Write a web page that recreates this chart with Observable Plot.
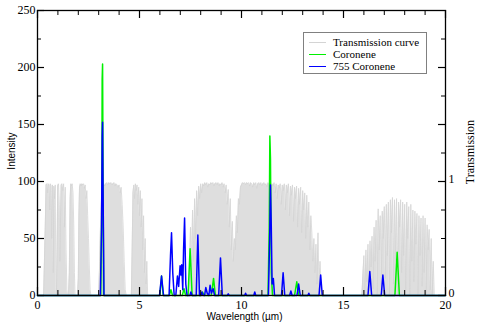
<!DOCTYPE html>
<html><head><meta charset="utf-8">
<script src="https://cdn.jsdelivr.net/npm/d3@7"></script>
<script src="https://cdn.jsdelivr.net/npm/@observablehq/plot@0.6"></script>
<style>
body{margin:0;background:#fff}
#wrap{position:relative;width:480px;height:324px;overflow:hidden}
#legend{position:absolute;left:303px;top:32px;width:124px;height:42px;border:1px solid #808080;background:#fff;box-sizing:border-box;font-family:"Liberation Serif",serif;font-size:11px;color:#000}
#legend .row{position:absolute;left:0;height:12px;line-height:12px;white-space:nowrap}
#legend .sw{position:absolute;left:5px;top:6px;width:17px;height:0}
#legend .lb{position:absolute;left:29px;top:0}
</style></head>
<body><div id="wrap"></div>
<script>
// ---------- data ----------
const seriesNames = ["Transmission curve", "Coronene", "755 Coronene"];
const seriesColors = ["#d4d4d4", "#00f000", "#0000ff"];

// atmospheric transmission (percent; 100 % = transmission 1)
const transWl = [0,0.30,0.38,0.42,0.46,0.50,0.53,0.57,0.60,0.63,0.67,0.70,0.73,0.77,0.80,0.84,0.87,0.90,0.93,0.96,0.99,1.03,1.07,1.10,1.13,1.16,1.20,1.24,1.28,1.32,1.36,1.40,1.44,1.48,1.52,1.56,1.60,1.63,1.67,1.70,1.74,1.78,1.81,1.84,1.90,1.96,2.00,2.03,2.06,2.10,2.14,2.18,2.22,2.26,2.30,2.34,2.38,2.42,2.46,2.50,2.54,2.58,2.62,3.00,3.05,3.10,3.15,3.20,3.25,3.30,3.35,3.40,3.45,3.50,3.55,3.60,3.65,3.70,3.75,3.80,3.85,3.90,3.95,4.00,4.05,4.10,4.15,4.20,4.25,4.30,4.35,4.60,4.64,4.68,4.72,4.76,4.80,4.84,4.88,4.92,4.96,5.00,5.04,5.08,5.12,5.16,5.20,5.24,5.28,5.32,5.36,5.40,7.40,7.45,7.50,7.55,7.60,7.65,7.70,7.75,7.80,7.85,7.90,7.95,8.00,8.05,8.10,8.15,8.20,8.25,8.30,8.35,8.40,8.45,8.50,8.55,8.60,8.65,8.70,8.75,8.80,8.85,8.90,8.95,9.00,9.05,9.10,9.15,9.20,9.25,9.30,9.35,9.40,9.45,9.50,9.55,9.60,9.65,9.70,9.75,9.80,9.85,9.90,9.95,10.00,10.05,10.10,10.15,10.20,10.25,10.30,10.35,10.40,10.45,10.50,10.55,10.60,10.65,10.70,10.75,10.80,10.85,10.90,10.95,11.00,11.05,11.10,11.15,11.20,11.25,11.30,11.35,11.40,11.45,11.50,11.55,11.60,11.65,11.70,11.75,11.80,11.85,11.90,11.95,12.00,12.05,12.10,12.15,12.20,12.25,12.30,12.35,12.40,12.45,12.50,12.55,12.60,12.65,12.70,12.75,12.80,12.85,12.90,12.95,13.00,13.05,13.10,13.15,13.20,13.25,13.30,13.35,13.40,13.45,13.50,13.55,13.60,13.65,13.70,13.75,13.80,13.85,13.90,13.95,14.05,15.90,16.00,16.04,16.10,16.14,16.20,16.25,16.30,16.35,16.40,16.45,16.50,16.55,16.60,16.65,16.70,16.75,16.80,16.85,16.90,16.95,17.00,17.05,17.10,17.15,17.20,17.25,17.30,17.35,17.40,17.45,17.50,17.55,17.60,17.65,17.70,17.75,17.80,17.85,17.90,17.95,18.00,18.05,18.10,18.15,18.20,18.25,18.30,18.35,18.40,18.45,18.50,18.55,18.60,18.65,18.70,18.75,18.80,18.85,18.90,18.95,19.00,19.05,19.10,19.15,19.20,19.25,19.30,19.35,19.40,19.45,20.00];
const transPct = [0,0,60,97,98,90,98,97,75,98,96,50,97,20,96,85,97,10,0,40,96,98,80,30,70,97,98,92,98,60,95,40,5,0,0,20,85,98,96,98,90,60,20,0,0,0,15,70,95,98,96,98,97,98,94,97,85,92,70,50,25,5,0,0,30,70,90,96,98,96,98,99,97,99,98,99,97,98,99,96,98,97,95,97,90,95,80,60,30,5,0,0,40,90,97,85,98,92,97,80,95,70,92,60,85,40,70,20,50,10,30,0,0,20,60,15,75,30,85,50,92,70,96,85,98,90,98,96,99,97,99,95,98,97,99,98,99,96,98,99,97,99,96,98,97,99,95,98,90,97,80,93,60,85,40,65,30,50,40,70,55,85,80,95,97,99,98,99,97,99,98,99,96,99,98,95,99,97,99,94,98,99,97,99,96,98,99,97,98,95,99,97,98,92,98,96,99,90,98,85,97,94,98,80,97,92,98,75,97,90,98,70,96,88,97,65,95,85,96,60,94,80,95,55,92,75,90,50,88,60,82,40,70,55,30,50,20,45,10,55,5,30,10,0,0,0,35,0,40,12,45,0,48,25,52,6,60,30,66,0,76,40,70,8,74,50,78,15,80,35,82,0,84,55,86,10,84,30,85,0,82,60,84,20,82,35,80,5,82,50,78,0,80,30,75,12,74,45,72,0,70,35,68,8,70,20,68,0,62,40,58,5,50,0,30,0,0];

// Coronene spectrum (intensity)
const coroneneWl  = [0,3.10,3.15,3.17,3.19,3.21,3.24,6.00,6.08,6.16,6.46,6.54,6.62,7.10,7.18,7.26,7.38,7.48,7.58,8.00,8.09,8.18,8.52,8.63,8.72,11.30,11.36,11.39,11.42,11.46,11.52,12.60,12.71,12.80,17.52,17.63,17.74,20];
const coroneneInt = [0,0,70,190,203,120,0,0,17,0,0,5,0,0,6,0,0,41,0,0,3,0,0,15,0,0,60,140,120,20,0,0,12,0,0,38,0,0];

// 755 Coronene spectrum (intensity)
const c755Wl  = [0,3.08,3.14,3.17,3.19,3.21,3.26,5.98,6.08,6.18,6.45,6.52,6.57,6.63,6.70,6.78,6.86,6.92,6.99,7.03,7.07,7.12,7.16,7.21,7.27,7.33,7.47,7.52,7.58,7.78,7.86,7.94,8.02,8.06,8.12,8.19,8.25,8.32,8.40,8.46,8.52,8.61,8.68,8.88,8.97,9.06,9.30,9.35,9.40,10.15,10.20,10.25,10.60,10.65,10.70,11.32,11.38,11.42,11.46,11.50,11.56,11.62,11.96,12.04,12.12,12.36,12.42,12.48,12.72,12.80,12.88,13.25,13.30,13.35,13.80,13.88,13.96,16.20,16.29,16.38,16.85,16.93,17.02,20];
const c755Int = [0,0,60,140,152,100,0,0,17,0,0,35,55,20,0,0,17,8,26,18,27,5,40,68,10,0,0,3,0,0,53,0,0,3,0,0,7,2,0,9,2,6,0,0,33,0,0,1.5,0,0,2,0,0,3,0,0,50,97,60,10,15,0,0,20,0,0,4,0,0,10,0,0,2,0,0,18,0,0,21,0,0,18,0,0];

// axes
const xMajor = [0,5,10,15,20];
const xMinor = [1,2,3,4,6,7,8,9,11,12,13,14,16,17,18,19];
const yMajor = [0,50,100,150,200,250];
const yMinor = [25,75,125,175,225];
const rLabeled = [0,100];          // transmission 0 and 1
const rMajor = [0,100,150,200];
const rMinor = [25,50,75,125,175,225];
const axisTitles = {x: "Wavelength (µm)", y: "Intensity", y2: "Transmission"};

// ---------- chart ----------
const W = 480, H = 324, mL = 37, mR = 35, mT = 10, mB = 29;
const pw = W - mL - mR, ph = H - mT - mB;
const trans = transWl.map((x, i) => ({x, y: transPct[i]}));
const cor = coroneneWl.map((x, i) => ({x, y: coroneneInt[i]}));
const c755 = c755Wl.map((x, i) => ({x, y: c755Int[i]}));
const sans = "'Liberation Sans', Arial, sans-serif";

const chart = Plot.plot({
  width: W, height: H,
  marginLeft: mL, marginRight: mR, marginTop: mT, marginBottom: mB,
  x: {domain: [0, 20]},
  y: {domain: [0, 250]},
  style: {fontFamily: "'Liberation Serif', 'Times New Roman', serif", fontSize: "12px", background: "white", color: "black"},
  marks: [
    Plot.areaY(trans, {x: "x", y: "y", fill: "#dedede"}),
    Plot.line(trans, {x: "x", y: "y", stroke: seriesColors[0], strokeWidth: 0.8}),
    Plot.line(cor, {x: "x", y: "y", stroke: seriesColors[1], strokeWidth: 1.5}),
    Plot.line(c755, {x: "x", y: "y", stroke: seriesColors[2], strokeWidth: 1.5}),
    // left ticks (inward)
    Plot.tickY(yMajor, {y: d => d, insetRight: pw - 7, stroke: "black", strokeWidth: 1.2}),
    Plot.tickY(yMinor, {y: d => d, insetRight: pw - 4, stroke: "black"}),
    // right ticks (inward)
    Plot.tickY(rMajor, {y: d => d, insetLeft: pw - 7, stroke: "black", strokeWidth: 1.2}),
    Plot.tickY(rMinor, {y: d => d, insetLeft: pw - 4, stroke: "black"}),
    // bottom ticks (inward, up)
    Plot.tickX(xMajor, {x: d => d, insetTop: ph - 8, stroke: "black", strokeWidth: 1.2}),
    Plot.tickX(xMinor, {x: d => d, insetTop: ph - 5, stroke: "black"}),
    // top ticks (inward, down)
    Plot.tickX(xMajor, {x: d => d, insetBottom: ph - 8, stroke: "black", strokeWidth: 1.2}),
    Plot.tickX(xMinor, {x: d => d, insetBottom: ph - 5, stroke: "black"}),
    Plot.frame({stroke: "black", strokeWidth: 1.3}),
    Plot.axisX({ticks: xMajor, tickSize: 0, tickPadding: 5, label: null, tickFormat: d => String(d)}),
    Plot.axisY({ticks: yMajor, tickSize: 0, tickPadding: 2, label: null, tickFormat: d => String(d)}),
    Plot.axisY({anchor: "right", ticks: rLabeled, tickSize: 0, tickPadding: 3, dy: -2, label: null, tickFormat: d => String(d / 100)}),
    Plot.text([axisTitles.x], {text: d => d, frameAnchor: "bottom", textAnchor: "middle", lineAnchor: "middle", dy: 21, dx: 3, fontFamily: sans, fontSize: 10}),
    Plot.text([axisTitles.y], {text: d => d, frameAnchor: "left", textAnchor: "middle", lineAnchor: "middle", dx: -26, dy: -2, rotate: -90, fontFamily: sans, fontSize: 10}),
    Plot.text([axisTitles.y2], {text: d => d, frameAnchor: "right", textAnchor: "middle", lineAnchor: "middle", dx: 25, dy: -1, rotate: -90, fontSize: 12})
  ]
});
const wrap = document.getElementById("wrap");
wrap.appendChild(chart);

// legend
const leg = document.createElement("div");
leg.id = "legend";
seriesNames.forEach((name, i) => {
  const row = document.createElement("div");
  row.className = "row";
  row.style.top = (3 + i * 12) + "px";
  row.style.width = "100%";
  const sw = document.createElement("span");
  sw.className = "sw";
  sw.style.borderTop = "1.5px solid " + seriesColors[i];
  const lb = document.createElement("span");
  lb.className = "lb";
  lb.textContent = name;
  row.appendChild(sw); row.appendChild(lb);
  leg.appendChild(row);
});
wrap.appendChild(leg);
</script></body></html>
